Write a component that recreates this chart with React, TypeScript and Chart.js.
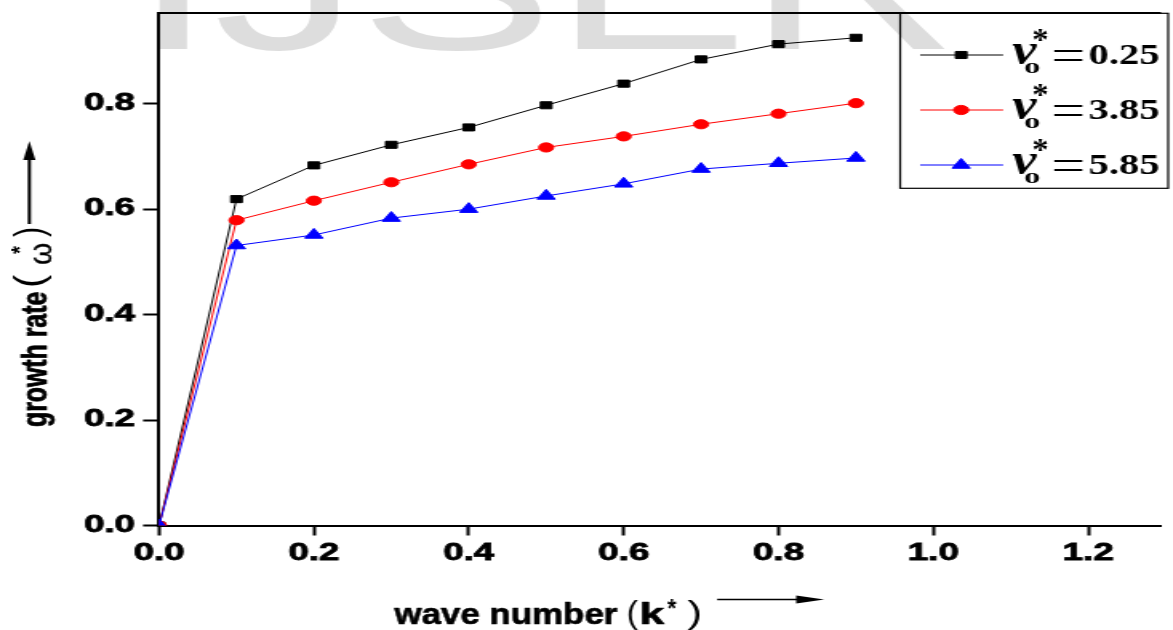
import React, { useEffect, useRef } from 'react';
import { Chart, registerables } from 'chart.js';

Chart.register(...registerables);

// ---------- data ----------
const waveNumbers = [0, 0.1, 0.2, 0.3, 0.4, 0.5, 0.6, 0.7, 0.8, 0.9];
const growthNu025 = [0, 0.619, 0.683, 0.722, 0.755, 0.797, 0.838, 0.884, 0.913, 0.925];
const growthNu385 = [0, 0.579, 0.616, 0.651, 0.685, 0.717, 0.738, 0.761, 0.781, 0.801];
const growthNu585 = [0, 0.531, 0.551, 0.583, 0.6, 0.625, 0.648, 0.676, 0.687, 0.697];
const seriesValues = ['0.25', '3.85', '5.85'];
const seriesColors = ['#000000', '#ff0000', '#0000ff'];
const seriesMarkers = ['rect', 'circle', 'triangle'];
const xRange = [0, 1.294];
const yRange = [0, 0.972];
const tickStep = 0.2;
const watermark = 'IJSER';

// ---------- layout (the figure is horizontally stretched) ----------
const STRETCH = 1.6;
const CSS_W = 1173;
const CSS_H = 630;
const CANVAS_W = Math.round(CSS_W / STRETCH);
const sx = (v: number) => v / STRETCH;

const SANS = '"Liberation Sans", Arial, Helvetica, sans-serif';
const SERIF = '"Liberation Serif", "Times New Roman", Times, serif';

function fitBox(ctx: CanvasRenderingContext2D, text: string, font: string,
  x0: number, y0: number, x1: number, y1: number, strokeW = 0) {
  ctx.save();
  ctx.font = font;
  ctx.textAlign = 'left';
  ctx.textBaseline = 'alphabetic';
  const m = ctx.measureText(text);
  const w = m.actualBoundingBoxLeft + m.actualBoundingBoxRight;
  const h = m.actualBoundingBoxAscent + m.actualBoundingBoxDescent;
  ctx.translate(x0, y0);
  ctx.scale((x1 - x0) / w, (y1 - y0) / h);
  ctx.fillText(text, m.actualBoundingBoxLeft, m.actualBoundingBoxAscent);
  if (strokeW > 0) {
    ctx.lineWidth = strokeW;
    ctx.lineJoin = 'round';
    ctx.strokeStyle = ctx.fillStyle as string;
    ctx.strokeText(text, m.actualBoundingBoxLeft, m.actualBoundingBoxAscent);
  }
  ctx.restore();
}

function drawMarker(ctx: CanvasRenderingContext2D, style: string, x: number, y: number, r: number, color: string) {
  ctx.save();
  ctx.fillStyle = color;
  ctx.strokeStyle = color;
  ctx.lineWidth = 1;
  ctx.beginPath();
  if (style === 'rect') {
    const h = r * Math.SQRT1_2;
    ctx.rect(x - h, y - h, 2 * h, 2 * h);
  } else if (style === 'circle') {
    ctx.arc(x, y, r, 0, Math.PI * 2);
  } else {
    const s = r * Math.sin(Math.PI / 3);
    ctx.moveTo(x, y - r);
    ctx.lineTo(x + s, y + r / 2);
    ctx.lineTo(x - s, y + r / 2);
    ctx.closePath();
  }
  ctx.fill();
  ctx.stroke();
  ctx.restore();
}

const markerRadius: Record<string, number> = { rect: 5, circle: 4.6, triangle: 6.5 };

const decorPlugin = {
  id: 'decor',
  beforeDraw(chart: any) {
    const ctx: CanvasRenderingContext2D = chart.ctx;
    ctx.save();
    ctx.fillStyle = '#ffffff';
    ctx.fillRect(0, 0, chart.width, chart.height);
    ctx.fillStyle = '#dddddd';
    ctx.font = `182px ${SANS}`;
    ctx.textBaseline = 'alphabetic';
    ctx.textAlign = 'left';
    ctx.fillText(watermark, 83, 49);
    ctx.restore();
  },
  afterDraw(chart: any) {
    const ctx: CanvasRenderingContext2D = chart.ctx;
    const ca = chart.chartArea;
    ctx.save();
    // top frame line
    ctx.strokeStyle = '#000';
    ctx.lineWidth = 2;
    ctx.beginPath();
    ctx.moveTo(ca.left - 1, ca.top);
    ctx.lineTo(ca.right, ca.top);
    ctx.stroke();

    // ---- y axis title (rotated) ----
    ctx.fillStyle = '#000';
    ctx.save();
    ctx.translate(0, 427);
    ctx.rotate(-Math.PI / 2);
    fitBox(ctx, 'growth rate', `bold 22px ${SANS}`, 0, 12.5, 135, 33.5, 0.6);
    fitBox(ctx, '(', `20px ${SANS}`, 141, 8.5, 153, 32.5);
    fitBox(ctx, 'ω', `22px ${SANS}`, 162, 19.5, 184, 31.5, 0.3);
    fitBox(ctx, '*', `bold 16px ${SANS}`, 173, 6, 182, 12.5);
    fitBox(ctx, ')', `20px ${SANS}`, 190, 8.5, 199, 32.5);
    ctx.restore();

    // y arrow
    ctx.lineWidth = 2;
    ctx.beginPath();
    ctx.moveTo(sx(29.3), 224);
    ctx.lineTo(sx(29.3), 152);
    ctx.stroke();
    ctx.beginPath();
    ctx.moveTo(sx(29.3), 141);
    ctx.lineTo(sx(29.3) + 3.8, 160);
    ctx.lineTo(sx(29.3) - 3.8, 160);
    ctx.closePath();
    ctx.fill();

    // ---- x axis title ----
    fitBox(ctx, 'wave number', `bold 26px ${SANS}`, sx(393), 603, sx(617), 624, 0.6);
    fitBox(ctx, '(', `24px ${SANS}`, sx(628), 601, sx(638), 630);
    fitBox(ctx, 'k', `bold 26px ${SANS}`, sx(641), 603, sx(665), 624, 0.6);
    fitBox(ctx, '*', `bold 18px ${SANS}`, sx(667), 598, sx(676), 608);
    fitBox(ctx, ')', `24px ${SANS}`, sx(687), 601, sx(700), 630);

    // x arrow
    ctx.lineWidth = 1.7;
    ctx.beginPath();
    ctx.moveTo(sx(717), 599.5);
    ctx.lineTo(sx(800), 599.5);
    ctx.stroke();
    ctx.beginPath();
    ctx.moveTo(sx(824), 599.5);
    ctx.lineTo(sx(796), 595.5);
    ctx.lineTo(sx(796), 603.5);
    ctx.closePath();
    ctx.fill();

    // ---- legend ----
    ctx.lineWidth = 1.2;
    ctx.strokeRect(sx(900), 13.3, sx(1168) - sx(900), 188.3 - 13.3);
    const rows = [55, 110, 165];
    chart.data.datasets.forEach((ds: any, i: number) => {
      const y = rows[i];
      ctx.strokeStyle = ds.borderColor;
      ctx.lineWidth = 1;
      ctx.beginPath();
      ctx.moveTo(sx(920), y);
      ctx.lineTo(sx(1003), y);
      ctx.stroke();
      drawMarker(ctx, ds.pointStyle, sx(961), y, markerRadius[ds.pointStyle], ds.backgroundColor);
      ctx.fillStyle = '#000';
      fitBox(ctx, 'ν', `italic bold 40px ${SERIF}`, sx(1012), y - 12, sx(1038), y + 9);
      fitBox(ctx, '0', `bold 15px ${SERIF}`, sx(1024), y + 8, sx(1039), y + 18);
      fitBox(ctx, '*', `bold 28px ${SERIF}`, sx(1033), y - 25, sx(1047), y - 13);
      fitBox(ctx, '=', `30px ${SERIF}`, sx(1053), y - 5, sx(1083), y + 6);
      fitBox(ctx, seriesValues[i], `bold 28px ${SERIF}`, sx(1090), y - 10.5, sx(1158), y + 8.5);
    });
    ctx.restore();
  },
};

export default function App() {
  const canvasRef = useRef<HTMLCanvasElement | null>(null);

  useEffect(() => {
    document.body.style.margin = '0';
    const canvas = canvasRef.current!;
    const mk = (values: number[], i: number) => ({
      label: seriesValues[i],
      data: waveNumbers.map((x, j) => ({ x, y: values[j] })),
      borderColor: seriesColors[i],
      backgroundColor: seriesColors[i],
      pointBackgroundColor: seriesColors[i],
      pointBorderColor: seriesColors[i],
      pointStyle: seriesMarkers[i],
      pointRadius: markerRadius[seriesMarkers[i]],
      pointBorderWidth: 1,
      borderWidth: 1,
      tension: 0,
      fill: false,
      clip: 0,
      order: 2 - i,
    });
    const tickFont = { family: SANS, size: 23, weight: 'bold' as const };
    const chart = new Chart(canvas, {
      type: 'line',
      data: {
        datasets: [mk(growthNu025, 0), mk(growthNu385, 1), mk(growthNu585, 2)],
      },
      options: {
        responsive: false,
        animation: false,
        devicePixelRatio: 1,
        layout: { padding: { top: 13, left: 0, right: 0, bottom: 0 } },
        plugins: { legend: { display: false }, tooltip: { enabled: false }, title: { display: false } },
        scales: {
          x: {
            type: 'linear',
            min: xRange[0],
            max: xRange[1],
            afterFit: (s: any) => {
              s.height = CSS_H - 525.5;
              s.paddingLeft = 0; s.paddingRight = 0; s.paddingTop = 0; s.paddingBottom = 0;
            },
            ticks: {
              stepSize: tickStep,
              includeBounds: false,
              autoSkip: false,
              maxRotation: 0,
              padding: 4,
              color: '#000',
              textStrokeColor: '#000',
              textStrokeWidth: 0.8,
              font: tickFont,
              callback: (v: any) => Number(v).toFixed(1),
            },
            grid: { display: true, drawOnChartArea: false, drawTicks: true, tickLength: 10, tickWidth: 2, tickColor: '#000' },
            border: { display: true, color: '#000', width: 2 },
          },
          y: {
            type: 'linear',
            min: yRange[0],
            max: yRange[1],
            afterFit: (s: any) => {
              s.width = sx(159);
              s.paddingLeft = 0; s.paddingRight = 0; s.paddingTop = 0; s.paddingBottom = 0;
            },
            ticks: {
              stepSize: tickStep,
              includeBounds: false,
              autoSkip: false,
              padding: 5,
              color: '#000',
              textStrokeColor: '#000',
              textStrokeWidth: 0.8,
              font: tickFont,
              callback: (v: any) => Number(v).toFixed(1),
            },
            grid: { display: true, drawOnChartArea: false, drawTicks: true, tickLength: 10, tickWidth: 2, tickColor: '#000' },
            border: { display: true, color: '#000', width: 2 },
          },
        },
      },
      plugins: [decorPlugin],
    } as any);
    return () => chart.destroy();
  }, []);

  return (
    <div style={{ position: 'fixed', left: 0, top: 0, width: CSS_W, height: CSS_H, overflow: 'hidden', background: '#fff' }}>
      <canvas
        ref={canvasRef}
        width={CANVAS_W}
        height={CSS_H}
        style={{ width: `${CSS_W}px`, height: `${CSS_H}px`, display: 'block' }}
      />
    </div>
  );
}
